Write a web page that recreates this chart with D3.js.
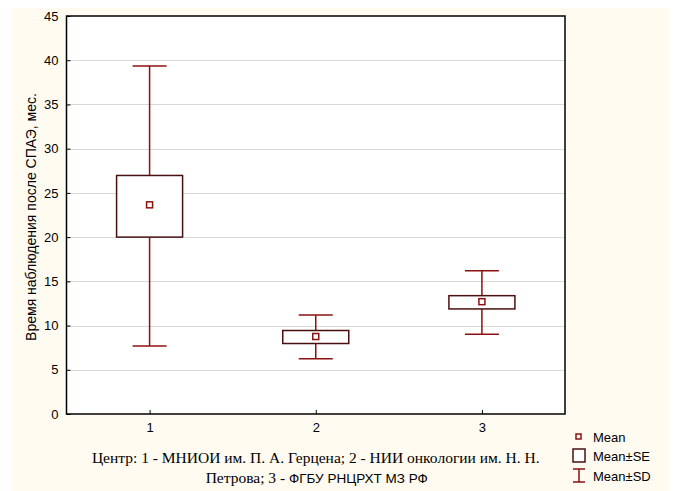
<!DOCTYPE html>
<html><head><meta charset="utf-8">
<script src="https://cdn.jsdelivr.net/npm/d3@7/dist/d3.min.js"></script>
<style>body{margin:0;background:#fff;} svg{font-family:"Liberation Sans",Arial,sans-serif;}</style>
</head><body><svg id="c" width="673" height="491"></svg>
<script>
const categories = ["1","2","3"];
const means = [23.65, 8.76, 12.7];
const seLow = [20.0, 7.97, 11.88];
const seHigh = [26.97, 9.44, 13.38];
const sdLow = [7.69, 6.24, 9.03];
const sdHigh = [39.36, 11.2, 16.2];
const yTicks = [0,5,10,15,20,25,30,35,40,45];

const svg = d3.select("#c");
const m={l:66.5,r:565,t:16,b:414};
svg.append("rect").attr("x",12).attr("y",8).attr("width",657).attr("height",483).attr("fill","#fffbf0");
svg.append("rect").attr("x",m.l).attr("y",m.t).attr("width",m.r-m.l).attr("height",m.b-m.t).attr("fill","#fff");

const x = d3.scaleLinear().domain([0.5,3.5]).range([m.l,m.r]);
const y = d3.scaleLinear().domain([0,45]).range([m.b,m.t]);

svg.append("g").selectAll("line").data(yTicks.filter(d=>d>0&&d<45)).join("line")
 .attr("x1",m.l).attr("x2",m.r).attr("y1",d=>Math.round(y(d))+0.5).attr("y2",d=>Math.round(y(d))+0.5)
 .attr("stroke","#d9d9d9").attr("stroke-width",1);

const ya = d3.axisLeft(y).tickValues(yTicks).tickSize(-4).tickPadding(8).tickFormat(d3.format("d"));
const gy = svg.append("g").attr("transform",`translate(${m.l},0)`).call(ya);
gy.attr("font-family",null).style("font-family",null);
gy.select(".domain").remove();
gy.selectAll("text").attr("font-size",13).attr("fill","#000");
gy.selectAll("line").attr("stroke","#000");
const xa = d3.axisBottom(x).tickValues([1,2,3]).tickSize(-4).tickPadding(9).tickFormat((d,i)=>categories[i]);
const gx = svg.append("g").attr("transform",`translate(0,${m.b})`).call(xa);
gx.attr("font-family",null);
gx.select(".domain").remove();
gx.selectAll("text").attr("font-size",13).attr("fill","#000");
gx.selectAll("line").attr("stroke","#000");

svg.append("rect").attr("x",m.l).attr("y",m.t).attr("width",m.r-m.l).attr("height",m.b-m.t)
 .attr("fill","none").attr("stroke","#000").attr("stroke-width",1.5);

const wc="#8b1010", bc="#4a1010";
const boxW=66, capW=34, mk=6;
const g = svg.append("g");
categories.forEach((c,i)=>{
  const cx = x(i+1);
  g.append("line").attr("x1",cx).attr("x2",cx).attr("y1",y(sdHigh[i])).attr("y2",y(seHigh[i])).attr("stroke",wc).attr("stroke-width",1.5);
  g.append("line").attr("x1",cx).attr("x2",cx).attr("y1",y(seLow[i])).attr("y2",y(sdLow[i])).attr("stroke",wc).attr("stroke-width",1.5);
  g.append("line").attr("x1",cx-capW/2).attr("x2",cx+capW/2).attr("y1",y(sdHigh[i])).attr("y2",y(sdHigh[i])).attr("stroke",wc).attr("stroke-width",1.5);
  g.append("line").attr("x1",cx-capW/2).attr("x2",cx+capW/2).attr("y1",y(sdLow[i])).attr("y2",y(sdLow[i])).attr("stroke",wc).attr("stroke-width",1.5);
  g.append("rect").attr("x",cx-boxW/2).attr("y",y(seHigh[i])).attr("width",boxW).attr("height",y(seLow[i])-y(seHigh[i]))
   .attr("fill","#fff").attr("stroke",bc).attr("stroke-width",1.5);
  g.append("rect").attr("x",cx-mk/2).attr("y",y(means[i])-mk/2).attr("width",mk).attr("height",mk)
   .attr("fill","#fff").attr("stroke",wc).attr("stroke-width",1.5);
});

svg.append("text").attr("transform",`translate(36,${(m.t+m.b)/2+2}) rotate(-90)`).attr("text-anchor","middle")
 .attr("font-size",14).text("Время наблюдения после СПАЭ, мес.");

const serif = '"Liberation Serif","Times New Roman",serif';
svg.append("text").attr("text-anchor","middle").attr("font-size",15.5).style("font-family",serif)
 .attr("x",(m.l+m.r)/2).attr("y",463).text("Центр: 1 - МНИОИ им. П. А. Герцена; 2 - НИИ онкологии им. Н. Н.");
const xt2 = svg.append("text").attr("text-anchor","middle").attr("x",(m.l+m.r)/2+1).attr("y",483);
xt2.append("tspan").style("font-family",serif).attr("font-size",15.5).text("Петрова; 3 - ");
xt2.append("tspan").attr("font-size",13.5).text("ФГБУ РНЦРХТ МЗ РФ");

const lg = svg.append("g");
lg.append("rect").attr("x",576).attr("y",434).attr("width",5).attr("height",5).attr("fill","#fff").attr("stroke",wc).attr("stroke-width",1.5);
lg.append("text").attr("x",593).attr("y",442).attr("font-size",13).text("Mean");
lg.append("rect").attr("x",573).attr("y",449).attr("width",12).attr("height",13).attr("fill","#fff").attr("stroke",bc).attr("stroke-width",1.5);
lg.append("text").attr("x",593).attr("y",461).attr("font-size",13).text("Mean±SE");
lg.append("line").attr("x1",579).attr("x2",579).attr("y1",469).attr("y2",482).attr("stroke",wc).attr("stroke-width",1.5);
lg.append("line").attr("x1",573).attr("x2",585).attr("y1",469).attr("y2",469).attr("stroke",wc).attr("stroke-width",1.5);
lg.append("line").attr("x1",573).attr("x2",585).attr("y1",482).attr("y2",482).attr("stroke",wc).attr("stroke-width",1.5);
lg.append("text").attr("x",593).attr("y",481).attr("font-size",13).text("Mean±SD");
</script></body></html>
